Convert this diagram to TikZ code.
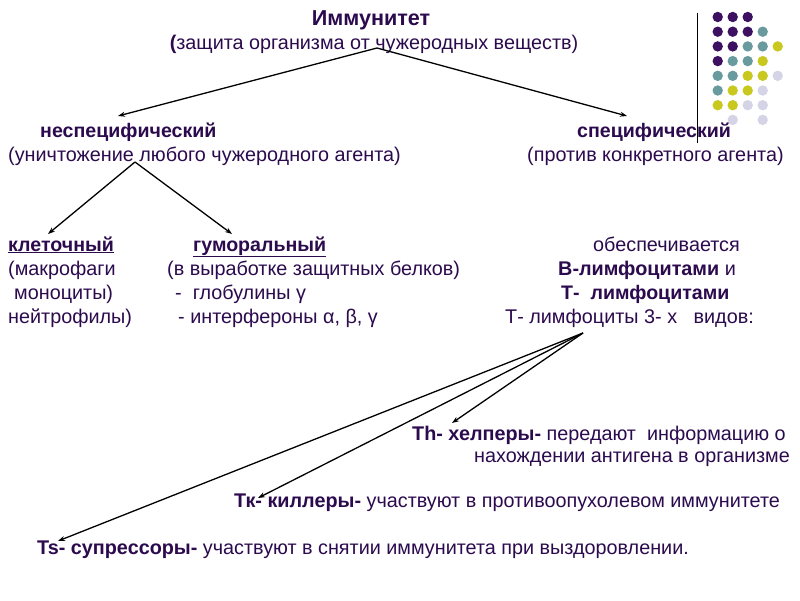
\documentclass[tikz,border=0pt]{standalone}
\usepackage{fontspec}
\setmainfont{Liberation Sans}
\usetikzlibrary{arrows.meta}
\definecolor{txt}{RGB}{43,10,78}
\definecolor{dp}{RGB}{62,16,98}
\definecolor{dt}{RGB}{104,154,158}
\definecolor{dy}{RGB}{200,200,30}
\definecolor{dl}{RGB}{212,212,230}
\begin{document}
\begin{tikzpicture}[x=1pt,y=-1pt,
  lbl/.style={anchor=west,inner sep=0pt,text=txt,text height=14pt,text depth=4pt,font=\fontsize{19.8}{23}\selectfont},
  bl/.style={lbl,font=\fontsize{19.6}{23}\selectfont\bfseries},
  arr/.style={-{Stealth[length=7pt,width=5pt]},line width=1.3pt,black}]
\useasboundingbox[fill=white] (0,0) rectangle (800,600);

% decoration
\draw[line width=1pt,black] (697,13) -- (697,143);
\foreach \c [count=\r] in {{dp,dp,dp,,},{dp,dp,dp,dt,},{dp,dp,dt,dt,dy},{dp,dt,dt,dy,},{dt,dt,dy,dy,dl},{dt,dy,dy,dl,},{dy,dy,dl,dl,},{,dl,,dl,}}{
  \foreach \k [count=\col] in \c {
    \ifx\k\empty\else
      \fill[\k] ({702.7+15*\col},{2.3+14.7*\r}) circle (5.2pt);
    \fi
  }
}

% title
\node[bl,anchor=center,font=\fontsize{21.6}{25}\selectfont\bfseries] (imm) at (371,20) {Иммунитет};
\node[lbl,anchor=center] (imm2) at (374,44) {\textbf{(}защита организма от чужеродных веществ)};

% level 2
\node[bl] (nspec) at (40,132) {неспецифический};
\node[lbl] (nspec2) at (8,156) {(уничтожение любого чужеродного агента)};
\node[bl] (spec) at (577,132) {специфический};
\node[lbl] (spec2) at (527,156) {(против конкретного агента)};

% level 3 left
\node[bl] (klet) at (8,246) {\underline{клеточный}};
\node[lbl] (klet1) at (8,270) {(макрофаги};
\node[lbl] (klet2) at (14,294) {моноциты)};
\node[lbl] (klet3) at (8,318) {нейтрофилы)};
\node[bl] (gum) at (193,246) {\underline{гуморальный}};
\node[lbl] (gum1) at (167,270) {(в выработке защитных белков)};
\node[lbl] (gum2) at (175,294) {-\ \ глобулины γ};
\node[lbl] (gum3) at (178,318) {- интерфероны α, β, γ};

% level 3 right
\node[lbl] (obes) at (593,246) {обеспечивается};
\node[lbl] (blim) at (558,270) {\textbf{В-лимфоцитами} и};
\node[bl] (tlim) at (561,294) {Т-\ \ лимфоцитами};
\node[lbl] (tvid) at (505,318) {Т- лимфоциты 3- х\ \ \ видов:};

% T types
\node[lbl] (th) at (412,435) {\textbf{Th- хелперы-} передают\ \ информацию о};
\node[lbl,anchor=east] (th2) at (790,457) {нахождении антигена в организме};
\node[lbl] (tk) at (234,502) {\textbf{Тк- киллеры-} участвуют в противоопухолевом иммунитете};
\node[lbl] (ts) at (37,549) {\textbf{Ts- супрессоры-} участвуют в снятии иммунитета при выздоровлении.};

% connector points
\coordinate (a0) at (377,48);
\coordinate (e1) at (118,116);
\coordinate (e2) at (627,116);
\coordinate (b0) at (135,162);
\coordinate (f1) at (48,234);
\coordinate (f2) at (232,234);
\coordinate (c0) at (583,333);
\coordinate (g1) at (452,423);
\coordinate (g2) at (258,498);
\coordinate (g3) at (58,541);

\draw[arr] (a0) -- (e1);
\draw[arr] (a0) -- (e2);
\draw[arr] (b0) -- (f1);
\draw[arr] (b0) -- (f2);
\draw[arr] (c0) -- (g1);
\draw[arr] (c0) -- (g2);
\draw[arr] (c0) -- (g3);
\end{tikzpicture}
\end{document}
